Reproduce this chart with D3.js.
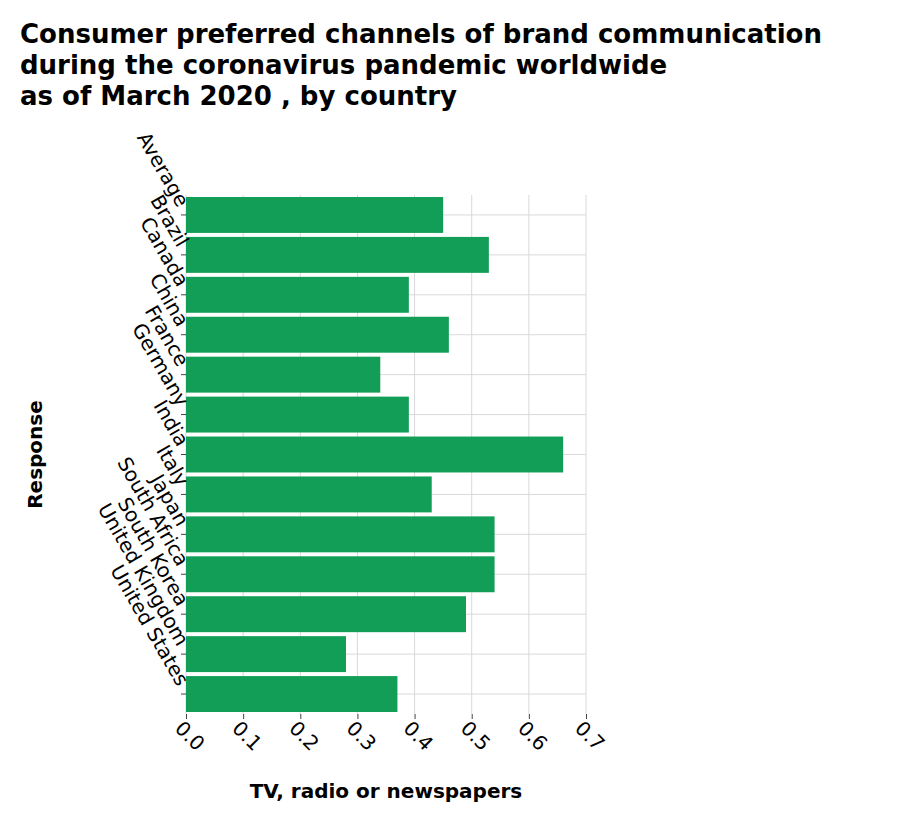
<!DOCTYPE html>
<html><head><meta charset="utf-8">
<script src="https://cdn.jsdelivr.net/npm/d3@7"></script>
<style>body{margin:0;background:#fff;font-family:"DejaVu Sans",sans-serif}</style>
</head><body>
<script>
const countries = ["Average","Brazil","Canada","China","France","Germany","India","Italy","Japan","South Africa","South Korea","United Kingdom","United States"];
const values = [0.45,0.53,0.39,0.46,0.34,0.39,0.66,0.43,0.54,0.54,0.49,0.28,0.37];
const xTicks = [0,0.1,0.2,0.3,0.4,0.5,0.6,0.7];

const svg = d3.select("body").append("svg").attr("width",904).attr("height",822);
const m = {l:186, t:195, r:586, b:714};

const title = ["Consumer preferred channels of brand communication","during the coronavirus pandemic worldwide","as of March 2020 , by country"];
svg.append("text").attr("x",20).attr("y",43).style("font-weight","bold").style("font-size","26px")
  .selectAll("tspan").data(title).join("tspan").attr("x",20).attr("dy",(d,i)=>i?31:0).text(d=>d);

const x = d3.scaleLinear().domain([0,0.7]).range([m.l,m.r]);
const y = d3.scaleBand().domain(countries).range([m.t,m.b]).paddingInner(0.1).paddingOuter(0.05);

// grid
svg.append("g").selectAll("line").data(xTicks).join("line")
  .attr("x1",d=>x(d)).attr("x2",d=>x(d)).attr("y1",m.t).attr("y2",m.b)
  .attr("stroke","#d9d9d9");
svg.append("g").selectAll("line").data(countries).join("line")
  .attr("x1",m.l).attr("x2",m.r).attr("y1",d=>y(d)+y.bandwidth()/2).attr("y2",d=>y(d)+y.bandwidth()/2)
  .attr("stroke","#d9d9d9");

svg.append("g").selectAll("rect").data(countries).join("rect")
  .attr("x",x(0)).attr("y",d=>y(d)).attr("height",y.bandwidth())
  .attr("width",(d,i)=>x(values[i])-x(0)).attr("fill","#129e57");

const xa = svg.append("g").attr("transform",`translate(0,${m.b})`)
  .call(d3.axisBottom(x).tickValues(xTicks).tickFormat(d3.format(".1f")).tickSize(5));
xa.select(".domain").remove();
xa.selectAll("line").attr("stroke","#444");
xa.selectAll("text").style("font-size","20px").attr("font-family","DejaVu Sans")
  .attr("text-anchor","start").attr("transform","rotate(45)").attr("dx","2").attr("dy","12");

const ya = svg.append("g").attr("transform",`translate(${m.l},0)`)
  .call(d3.axisLeft(y).tickSize(5));
ya.select(".domain").remove();
ya.selectAll("line").attr("stroke","#444");
ya.selectAll("text").style("font-size","20px").attr("font-family","DejaVu Sans")
  .attr("text-anchor","end").attr("transform","rotate(60)").attr("dx","-2").attr("dy","4").attr("x",-8);

svg.append("text").attr("x",(m.l+m.r)/2).attr("y",798).attr("text-anchor","middle")
  .style("font-weight","bold").style("font-size","20px").text("TV, radio or newspapers");
svg.append("text").attr("transform",`translate(42,${(m.t+m.b)/2}) rotate(-90)`).attr("text-anchor","middle")
  .style("font-weight","bold").style("font-size","20px").text("Response");
</script>
</body></html>
